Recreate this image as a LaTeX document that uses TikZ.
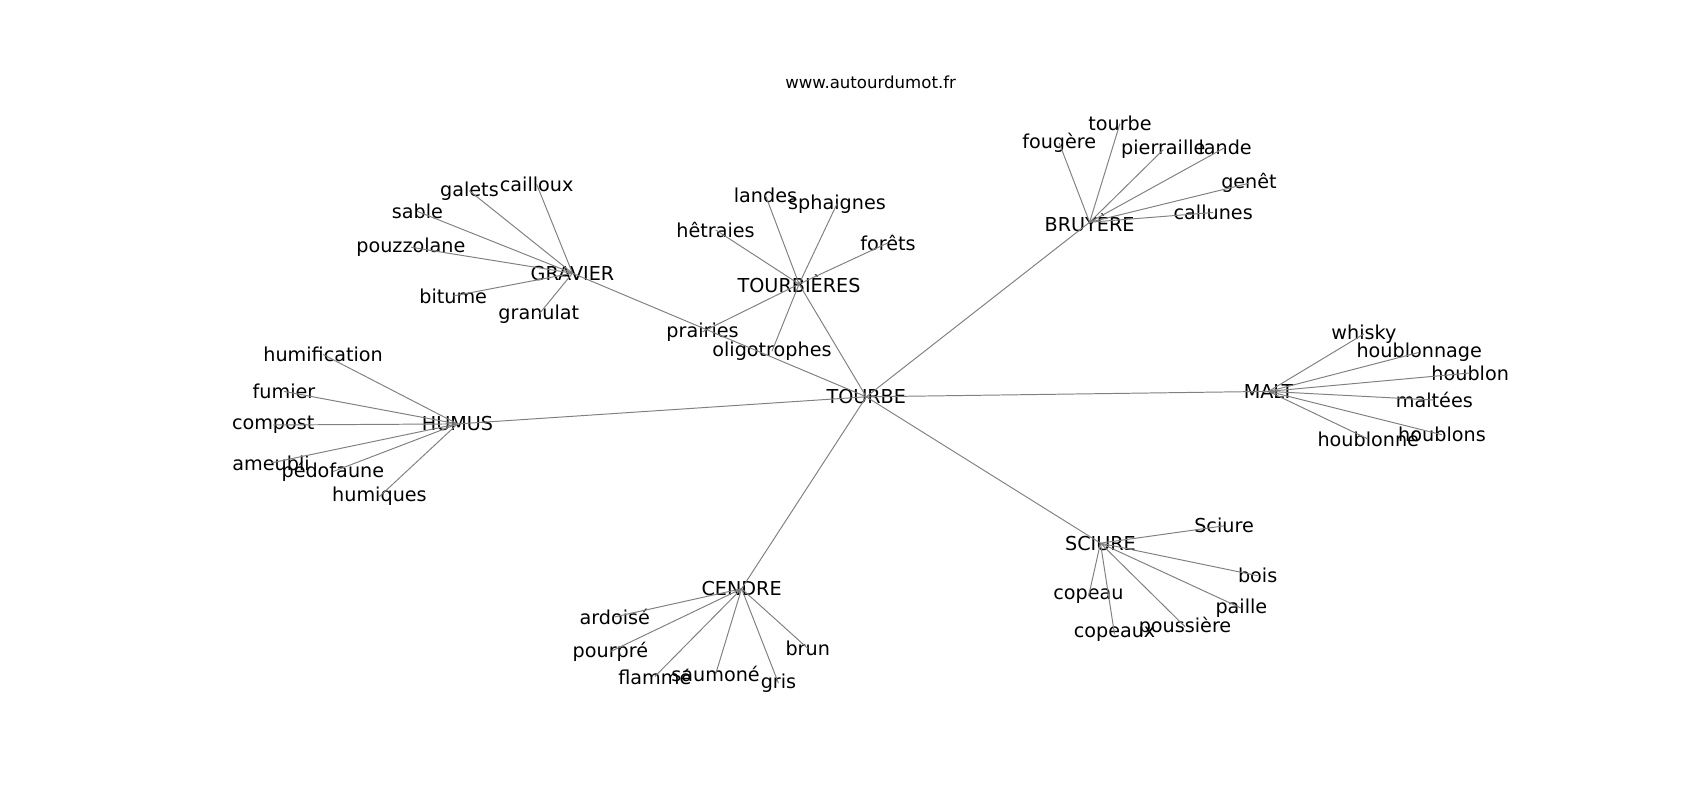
\documentclass[tikz,border=0pt]{standalone}
\usepackage{fontspec}
\setmainfont{DejaVu Sans}
\usepackage{tikz}

\begin{document}
\begin{tikzpicture}[
    x=1pt,
    y=-1pt,
    word/.style={
        inner sep=0pt,
        font=\fontsize{17.7}{21}\selectfont
    },
    hub/.style={
        word
    },
    title/.style={
        inner sep=0pt,
        font=\fontsize{15.3}{18}\selectfont
    },
    link/.style={
        draw=black!50,
        line width=0.9pt
    }
]
    \useasboundingbox (0,0) rectangle (1568,738);

    % Title
    \node[title] (site) at (803,76) {www.autourdumot.fr};

    % Centre word and its neighbours
    \node[hub] (tourbe) at (799,366) {TOURBE};
    \node[hub] (humus) at (422,391) {HUMUS};
    \node[hub] (gravier) at (528,252) {GRAVIER};
    \node[hub] (tourbieres) at (737,262) {TOURBIÈRES};
    \node[hub] (bruyere) at (1005,205) {BRUYÈRE};
    \node[hub] (malt) at (1170,361) {MALT};
    \node[hub] (sciure) at (1015,501) {SCIURE};
    \node[hub] (cendre) at (684,543) {CENDRE};

    % Around HUMUS
    \node[word] (humification) at (298,327) {humification};
    \node[word] (fumier) at (262,361) {fumier};
    \node[word] (compost) at (252,392) {compost};
    \node[word] (ameubli) at (250,427) {ameubli};
    \node[word] (pedofaune) at (307,435) {pédofaune};
    \node[word] (humiques) at (350,458) {humiques};

    % Around GRAVIER
    \node[word] (cailloux) at (495,170) {cailloux};
    \node[word] (galets) at (433,176) {galets};
    \node[word] (sable) at (385,195) {sable};
    \node[word] (pouzzolane) at (379,228) {pouzzolane};
    \node[word] (bitume) at (418,273) {bitume};
    \node[word] (granulat) at (497,290) {granulat};

    % Around TOURBIERES
    \node[word] (landes) at (706,180) {landes};
    \node[word] (sphaignes) at (772,188) {sphaignes};
    \node[word] (hetraies) at (660,212) {hêtraies};
    \node[word] (forets) at (819,224) {forêts};
    \node[word] (prairies) at (648,306) {prairies};
    \node[word] (oligotrophes) at (712,324) {oligotrophes};

    % Around BRUYERE
    \node[word] (tourbeb) at (1033,114) {tourbe};
    \node[word] (fougere) at (977,132) {fougère};
    \node[word] (pierraille) at (1073,138) {pierraille};
    \node[word] (lande) at (1130,136) {lande};
    \node[word] (genet) at (1152,169) {genêt};
    \node[word] (callunes) at (1119,196) {callunes};

    % Around MALT
    \node[word] (whisky) at (1258,308) {whisky};
    \node[word] (houblonnage) at (1309,325) {houblonnage};
    \node[word] (houblon) at (1356,344) {houblon};
    \node[word] (maltees) at (1323,369) {maltées};
    \node[word] (houblons) at (1330,401) {houblons};
    \node[word] (houblonne) at (1262,405) {houblonné};

    % Around SCIURE
    \node[word] (sciurew) at (1129,485) {Sciure};
    \node[word] (bois) at (1160,531) {bois};
    \node[word] (paille) at (1145,561) {paille};
    \node[word] (poussiere) at (1093,578) {poussière};
    \node[word] (copeau) at (1004,550) {copeau};
    \node[word] (copeaux) at (1028,585) {copeaux};

    % Around CENDRE
    \node[word] (ardoise) at (567,569) {ardoisé};
    \node[word] (pourpre) at (563,601) {pourpré};
    \node[word] (flamme) at (604,624) {flammé};
    \node[word] (saumone) at (660,622) {saumoné};
    \node[word] (gris) at (718,630) {gris};
    \node[word] (brun) at (745,598) {brun};

    % Links from the centre
    \draw[link] (tourbe.center) -- (humus.center);
    \draw[link] (tourbe.center) -- (gravier.center);
    \draw[link] (tourbe.center) -- (tourbieres.center);
    \draw[link] (tourbe.center) -- (bruyere.center);
    \draw[link] (tourbe.center) -- (malt.center);
    \draw[link] (tourbe.center) -- (sciure.center);
    \draw[link] (tourbe.center) -- (cendre.center);

    % Links of HUMUS
    \draw[link] (humus.center) -- (humification.center);
    \draw[link] (humus.center) -- (fumier.center);
    \draw[link] (humus.center) -- (compost.center);
    \draw[link] (humus.center) -- (ameubli.center);
    \draw[link] (humus.center) -- (pedofaune.center);
    \draw[link] (humus.center) -- (humiques.center);

    % Links of GRAVIER
    \draw[link] (gravier.center) -- (cailloux.center);
    \draw[link] (gravier.center) -- (galets.center);
    \draw[link] (gravier.center) -- (sable.center);
    \draw[link] (gravier.center) -- (pouzzolane.center);
    \draw[link] (gravier.center) -- (bitume.center);
    \draw[link] (gravier.center) -- (granulat.center);

    % Links of TOURBIERES
    \draw[link] (tourbieres.center) -- (landes.center);
    \draw[link] (tourbieres.center) -- (sphaignes.center);
    \draw[link] (tourbieres.center) -- (hetraies.center);
    \draw[link] (tourbieres.center) -- (forets.center);
    \draw[link] (tourbieres.center) -- (prairies.center);
    \draw[link] (tourbieres.center) -- (oligotrophes.center);

    % Links of BRUYERE
    \draw[link] (bruyere.center) -- (tourbeb.center);
    \draw[link] (bruyere.center) -- (fougere.center);
    \draw[link] (bruyere.center) -- (pierraille.center);
    \draw[link] (bruyere.center) -- (lande.center);
    \draw[link] (bruyere.center) -- (genet.center);
    \draw[link] (bruyere.center) -- (callunes.center);

    % Links of MALT
    \draw[link] (malt.center) -- (whisky.center);
    \draw[link] (malt.center) -- (houblonnage.center);
    \draw[link] (malt.center) -- (houblon.center);
    \draw[link] (malt.center) -- (maltees.center);
    \draw[link] (malt.center) -- (houblons.center);
    \draw[link] (malt.center) -- (houblonne.center);

    % Links of SCIURE
    \draw[link] (sciure.center) -- (sciurew.center);
    \draw[link] (sciure.center) -- (bois.center);
    \draw[link] (sciure.center) -- (paille.center);
    \draw[link] (sciure.center) -- (poussiere.center);
    \draw[link] (sciure.center) -- (copeau.center);
    \draw[link] (sciure.center) -- (copeaux.center);

    % Links of CENDRE
    \draw[link] (cendre.center) -- (ardoise.center);
    \draw[link] (cendre.center) -- (pourpre.center);
    \draw[link] (cendre.center) -- (flamme.center);
    \draw[link] (cendre.center) -- (saumone.center);
    \draw[link] (cendre.center) -- (gris.center);
    \draw[link] (cendre.center) -- (brun.center);

\end{tikzpicture}
\end{document}
